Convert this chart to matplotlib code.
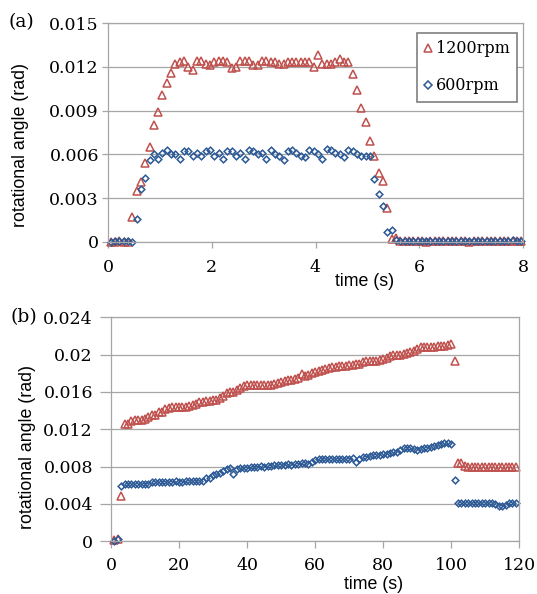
import numpy as np
import matplotlib
matplotlib.use("Agg")
import matplotlib.pyplot as plt

# (a) short run, sampled at 12 frames/s, values in mrad
time_a = np.arange(96) / 12.0 + 0.05
rpm1200_a = [0, 0, 0.1, 0, 0,
             1.7, 3.5, 4.1, 5.4, 6.5, 8.0, 8.9, 10.1, 10.9, 11.6,
             12.2, 12.3, 12.4, 12.0, 11.8, 12.4, 12.4, 12.2, 12.1, 12.3,
             12.4, 12.4, 12.3, 11.9, 12.0, 12.4, 12.4, 12.4, 12.1, 12.1,
             12.4, 12.4, 12.3, 12.3, 12.2, 12.2, 12.3, 12.3, 12.3, 12.3,
             12.3, 12.3, 12.0, 12.8, 12.2, 12.2, 12.2, 12.3, 12.5, 12.3, 12.3,
             11.5, 10.4, 9.2, 8.25, 6.9, 5.9, 4.7, 4.2, 2.3, 0.2, 0.3,
             0.05, 0.1, 0.05, 0.05, 0.1, 0.05, 0, 0.05, 0.1, 0.05,
             0.05, 0.05, 0.05, 0.1, 0.05, 0.05, 0, 0.05, 0.05, 0.05,
             0.1, 0.05, 0.05, 0.05, 0.05, 0.05, 0.1, 0.05, 0.05]
rpm600_a = [0, 0.05, 0.1, 0.1, 0.1, 0.0,
            1.6, 3.6, 4.4, 5.6, 6.0, 5.7, 6.1, 6.3, 6.0,
            6.0, 5.7, 6.2, 6.2, 5.9, 6.1, 5.9, 6.2, 6.3, 5.9, 6.1,
            5.7, 6.2, 6.2, 5.9, 6.1, 5.7, 6.3, 6.2, 6.0, 6.1, 5.7,
            6.3, 6.0, 5.9, 5.6, 6.2, 6.3, 6.1, 5.9, 5.8, 6.3, 6.2, 6.0,
            5.7, 6.4, 6.3, 6.1, 6.0, 5.8, 6.3, 6.2, 6.0, 5.9, 5.9, 5.9,
            4.3, 3.3, 2.45, 0.7, 0.8, 0.15,
            0.05, 0.05, 0.05, 0.05, 0.05, 0.05, 0.05, 0.05, 0.05, 0.05,
            0.05, 0.05, 0.05, 0.05, 0.05, 0.05, 0.05, 0.05, 0.05, 0.05,
            0.05, 0.05, 0.05, 0.05, 0.05, 0.05, 0.15, 0.1, 0.05]

# (b) long run, one sample per second, values in mrad
time_b = np.arange(1, 120)
rpm1200_b = [0.1, 0.2, 4.85,
             12.6, 12.6, 12.9, 13.0, 13.0, 13.0, 13.1, 13.3, 13.5, 13.5,
             13.9, 13.9, 14.2, 14.3, 14.4, 14.4, 14.4, 14.4, 14.4, 14.5,
             14.6, 14.7, 14.9, 14.9, 15.0, 15.0, 15.1, 15.1, 15.3, 15.6,
             15.9, 16.0, 16.0, 16.2, 16.4, 16.6, 16.7,
             16.7, 16.7, 16.7, 16.7, 16.7, 16.7, 16.7,
             16.8, 17.0, 17.1, 17.2, 17.3, 17.3, 17.4, 17.5, 17.9, 17.7,
             17.8, 18.0, 18.1,
             18.2, 18.3, 18.5, 18.6, 18.7, 18.7, 18.8, 18.8, 18.8, 18.9,
             18.9, 19.0, 19.0, 19.2, 19.3, 19.3, 19.3, 19.3, 19.4, 19.5, 19.6,
             19.9, 20.0, 20.0, 20.0, 20.1, 20.2, 20.3, 20.4, 20.6, 20.8,
             20.8, 20.8, 20.8, 20.8, 20.9, 20.9, 20.9, 21.0, 21.1,
             19.3, 8.4, 8.4, 8.1,
             8.0, 8.0, 8.0, 8.0, 8.0, 8.0, 8.0, 8.0, 8.0, 8.0,
             8.0, 8.0, 8.0, 8.0, 8.0]
rpm600_b = [0, 0.25, 5.9,
            6.1, 6.1, 6.1, 6.1, 6.1, 6.1, 6.1, 6.1,
            6.3, 6.4, 6.4, 6.4, 6.4, 6.4, 6.4, 6.5, 6.4, 6.4, 6.5, 6.5,
            6.5, 6.5, 6.5, 6.5,
            6.8, 6.8, 7.1, 7.2, 7.3, 7.5, 7.7, 7.9, 7.2, 7.7, 7.8, 7.8,
            7.9, 8.0,
            8.0, 8.0, 8.1, 8.0, 8.1, 8.1, 8.2, 8.2, 8.2, 8.2, 8.3, 8.2,
            8.3, 8.3, 8.4, 8.4, 8.3, 8.5,
            8.7, 8.8, 8.8, 8.8, 8.8, 8.8, 8.8, 8.8, 8.8, 8.8, 8.8, 8.9,
            8.5, 8.8, 9.0,
            9.0, 9.1, 9.2, 9.2, 9.2, 9.3, 9.4, 9.5, 9.6, 9.6, 9.8, 10.0,
            10.0, 10.0, 9.9, 9.8, 9.9, 10.0, 10.0, 10.1, 10.2, 10.3, 10.4,
            10.5, 10.5, 10.4,
            6.6, 4.1, 4.1, 4.1, 4.1, 4.1, 4.1, 4.1, 4.1, 4.1, 4.1, 4.1,
            4.0, 3.8, 3.8, 3.9, 4.1, 4.1, 4.1]

xticks_a = [0, 2, 4, 6, 8]
yticks_a = [0, 0.003, 0.006, 0.009, 0.012, 0.015]
ylabels_a = ['0', '0.003', '0.006', '0.009', '0.012', '0.015']
xticks_b = [0, 20, 40, 60, 80, 100, 120]
yticks_b = [0, 0.004, 0.008, 0.012, 0.016, 0.02, 0.024]
ylabels_b = ['0', '0.004', '0.008', '0.012', '0.016', '0.02', '0.024']

red = '#C0504D'
blue = '#2B5995'
grey = '#A6A6A6'
serif = 'DejaVu Serif'
sans = 'Liberation Sans'


def style_axes(ax, xticks, yticks, ylabels, ytick_len, ytick_pad, xtick_len, xtick_pad):
    ax.set_axisbelow(True)
    ax.grid(axis='y', color=grey, lw=0.9)
    for s in ax.spines.values():
        s.set_color(grey)
        s.set_linewidth(0.9)
    ax.set_xticks(xticks)
    ax.set_xticklabels([str(x) for x in xticks], family=serif, fontsize=12.5)
    ax.set_yticks(yticks)
    ax.set_yticklabels(ylabels, family=serif, fontsize=12.5)
    ax.tick_params(axis='y', length=ytick_len, width=0.9, color=grey, pad=ytick_pad)
    ax.tick_params(axis='x', length=xtick_len, width=0.9, color=grey, pad=xtick_pad)


fig = plt.figure(figsize=(5.37, 5.94), dpi=100)

# panel (a)
ax1 = fig.add_axes([108 / 537, 1 - 242 / 594, 415 / 537, 219 / 594])
ax1.plot(time_a, np.array(rpm1200_a) * 1e-3, ls='none', marker='^', ms=5.2,
         mfc='none', mec=red, mew=1.1, clip_on=False, label='1200rpm')
ax1.plot(time_a, np.array(rpm600_a) * 1e-3, ls='none', marker='D', ms=3.4,
         mfc='none', mec=blue, mew=1.1, clip_on=False, label='600rpm')
ax1.set_xlim(0, 8)
ax1.set_ylim(0, 0.015)
style_axes(ax1, xticks_a, yticks_a, ylabels_a, 4.5, 2, 4, 8)
ax1.set_xlabel('time (s)', family=sans, fontsize=12.8)
ax1.xaxis.set_label_coords(0.618, -0.18)
ax1.xaxis.label.set_va('center')
ax1.set_ylabel('rotational angle (rad)', family=sans, fontsize=12.8)
ax1.yaxis.set_label_coords(-0.21, 0.445)
ax1.yaxis.label.set_va('center')
leg = ax1.legend(loc='upper right', bbox_to_anchor=(0.986, 0.953),
                 prop={'family': serif, 'size': 11.5}, fancybox=False,
                 edgecolor='#7F7F7F', framealpha=1, markerscale=1.1,
                 handlelength=0.5, handletextpad=0.25, labelspacing=1.25,
                 borderpad=0.45, borderaxespad=0)
leg.get_frame().set_linewidth(1.2)
fig.text(21.5 / 537, 1 - 22 / 594, '(a)', family=serif, fontsize=13.5,
         ha='center', va='center')

# panel (b)
ax2 = fig.add_axes([111 / 537, 1 - 541.3 / 594, 408.3 / 537, 224 / 594])
ax2.plot(time_b, np.array(rpm1200_b) * 1e-3, ls='none', marker='^', ms=5.2,
         mfc='none', mec=red, mew=1.1, clip_on=False)
ax2.plot(time_b, np.array(rpm600_b) * 1e-3, ls='none', marker='D', ms=3.4,
         mfc='none', mec=blue, mew=1.1, clip_on=False)
ax2.set_xlim(0, 120)
ax2.set_ylim(0, 0.024)
style_axes(ax2, xticks_b, yticks_b, ylabels_b, 8, 5, 5, 6)
ax2.set_xlabel('time (s)', family=sans, fontsize=12.8)
ax2.xaxis.set_label_coords(0.642, -0.195)
ax2.xaxis.label.set_va('center')
ax2.set_ylabel('rotational angle (rad)', family=sans, fontsize=12.8)
ax2.yaxis.set_label_coords(-0.205, 0.423)
ax2.yaxis.label.set_va('center')
fig.text(24 / 537, 1 - 317.5 / 594, '(b)', family=serif, fontsize=13.5,
         ha='center', va='center')

fig.savefig('out.png', dpi=100)
